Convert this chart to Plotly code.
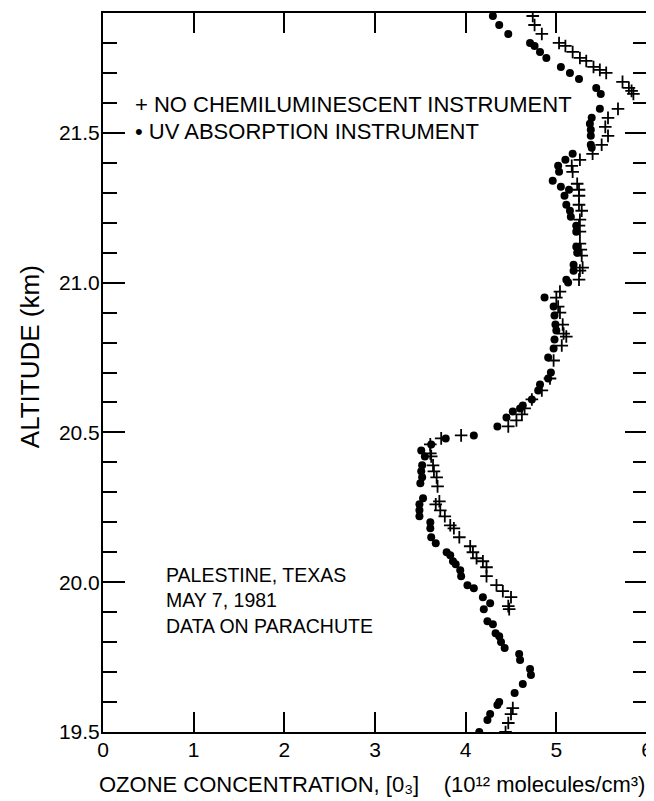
import plotly.graph_objects as go

# NO chemiluminescent instrument (crosses)
no_alt = [21.89, 21.86, 21.83, 21.80, 21.79, 21.77, 21.75, 21.74, 21.72, 21.71, 21.70, 21.67, 21.65, 21.64, 21.63,
          21.58, 21.55, 21.52, 21.49, 21.46, 21.43, 21.41, 21.39, 21.37, 21.33, 21.31, 21.29, 21.26, 21.24, 21.21,
          21.19, 21.17, 21.13, 21.11, 21.09, 21.05, 21.04, 21.01, 20.97, 20.95, 20.92, 20.90, 20.86, 20.83, 20.82,
          20.79, 20.74, 20.68, 20.64, 20.61, 20.58, 20.56, 20.54, 20.52, 20.49, 20.48, 20.46, 20.43, 20.42, 20.39,
          20.37, 20.35, 20.32, 20.27, 20.26, 20.24, 20.22, 20.19, 20.18, 20.15, 20.12, 20.10, 20.08, 20.07, 20.05,
          20.02, 19.99, 19.97, 19.95, 19.92, 19.91, 19.58, 19.56, 19.53, 19.50]
no_conc = [4.74, 4.76, 4.84, 5.03, 5.10, 5.18, 5.26, 5.33, 5.41, 5.48, 5.55, 5.73, 5.80, 5.83, 5.85,
           5.68, 5.57, 5.54, 5.57, 5.50, 5.40, 5.26, 5.17, 5.18, 5.23, 5.25, 5.25, 5.25, 5.28, 5.26,
           5.25, 5.26, 5.26, 5.27, 5.28, 5.29, 5.26, 5.25, 5.04, 5.00, 5.02, 5.04, 5.07, 5.08, 5.11,
           5.06, 4.97, 4.93, 4.84, 4.73, 4.65, 4.62, 4.56, 4.47, 3.95, 3.73, 3.61, 3.61, 3.62, 3.64,
           3.65, 3.68, 3.69, 3.71, 3.67, 3.72, 3.77, 3.83, 3.87, 3.93, 4.05, 4.08, 4.12, 4.19, 4.23,
           4.23, 4.34, 4.41, 4.50, 4.47, 4.48, 4.52, 4.50, 4.47, 4.44]

# UV absorption instrument (dots)
uv_alt = [21.89, 21.86, 21.83, 21.80, 21.79, 21.77, 21.75, 21.72, 21.70, 21.68, 21.65, 21.63, 21.58, 21.55, 21.53,
          21.51, 21.49, 21.46, 21.45, 21.43, 21.41, 21.39, 21.37, 21.34, 21.32, 21.31, 21.29, 21.26, 21.24, 21.22,
          21.19, 21.17, 21.12, 21.10, 21.06, 21.04, 21.01, 21.00, 20.95, 20.92, 20.89, 20.86, 20.84, 20.81, 20.78,
          20.75, 20.70, 20.68, 20.66, 20.64, 20.61, 20.59, 20.58, 20.57, 20.55, 20.52, 20.49, 20.48, 20.46, 20.44,
          20.42, 20.39, 20.37, 20.35, 20.33, 20.28, 20.26, 20.24, 20.22, 20.20, 20.18, 20.15, 20.13, 20.10, 20.09,
          20.07, 20.06, 20.04, 20.02, 19.99, 19.98, 19.95, 19.93, 19.91, 19.87, 19.86, 19.83, 19.82, 19.80, 19.78,
          19.76, 19.74, 19.71, 19.69, 19.66, 19.63, 19.60, 19.59, 19.56, 19.54, 19.50]
uv_conc = [4.30, 4.37, 4.47, 4.71, 4.76, 4.82, 4.89, 5.05, 5.15, 5.25, 5.44, 5.49, 5.48, 5.39, 5.37,
           5.38, 5.38, 5.38, 5.39, 5.18, 5.10, 5.02, 5.03, 4.96, 5.05, 5.14, 5.09, 5.11, 5.15, 5.16,
           5.22, 5.22, 5.22, 5.23, 5.19, 5.19, 5.11, 5.13, 4.87, 4.97, 4.98, 4.99, 5.00, 4.98, 4.97,
           4.91, 4.94, 4.91, 4.82, 4.80, 4.73, 4.63, 4.60, 4.52, 4.45, 4.35, 4.09, 3.78, 3.62, 3.51,
           3.55, 3.52, 3.51, 3.52, 3.50, 3.53, 3.49, 3.49, 3.49, 3.61, 3.61, 3.62, 3.67, 3.79, 3.83,
           3.86, 3.89, 3.94, 3.95, 4.02, 4.09, 4.19, 4.27, 4.20, 4.24, 4.30, 4.33, 4.37, 4.39, 4.43,
           4.59, 4.60, 4.71, 4.72, 4.63, 4.54, 4.37, 4.35, 4.27, 4.24, 4.15]

x_ticks = [0, 1, 2, 3, 4, 5, 6]
y_ticks = [19.5, 20.0, 20.5, 21.0, 21.5]
y_ticktext = ["19.5", "20.0", "20.5", "21.0", "21.5"]

legend_labels = ["+ NO CHEMILUMINESCENT INSTRUMENT", "\u2022 UV ABSORPTION INSTRUMENT"]
site_text = "PALESTINE, TEXAS<br>MAY 7, 1981<br>DATA ON PARACHUTE"
x_title = "OZONE CONCENTRATION, [0\u2083]    (10\u00b9\u00b2 molecules/cm\u00b3)"
y_title = "ALTITUDE (km)"

FONT = "Liberation Sans, Arial, sans-serif"

fig = go.Figure()
fig.add_trace(go.Scatter(
    x=no_conc, y=no_alt, mode="markers", name="NO CHEMILUMINESCENT INSTRUMENT",
    marker=dict(symbol="cross-thin", size=9, color="black", line=dict(color="black", width=1.8)),
))
fig.add_trace(go.Scatter(
    x=uv_conc, y=uv_alt, mode="markers", name="UV ABSORPTION INSTRUMENT",
    marker=dict(symbol="circle", size=8, color="black"),
))

annotations = [
    dict(x=0.33, y=21.595, xref="x", yref="y", xanchor="left", yanchor="middle", align="left",
         text=legend_labels[0], showarrow=False, font=dict(size=22)),
    dict(x=0.33, y=21.505, xref="x", yref="y", xanchor="left", yanchor="middle", align="left",
         text=legend_labels[1], showarrow=False, font=dict(size=22)),
    dict(x=0.67, y=19.94, xref="x", yref="y", xanchor="left", yanchor="middle", align="left",
         text=site_text, showarrow=False, font=dict(size=19.5)),
    dict(x=0.4954, y=-0.0737, xref="paper", yref="paper", xanchor="center", yanchor="middle",
         text=x_title, showarrow=False, font=dict(size=22)),
    dict(x=-0.134, y=0.5215, xref="paper", yref="paper", xanchor="center", yanchor="middle",
         text=y_title, textangle=-90, showarrow=False, font=dict(size=26)),
]

# the page body adds an 8 px margin, so the figure is 8 px smaller than the window
fig.update_layout(
    width=646, height=793,
    margin=dict(l=95, r=7, t=5, b=69),
    paper_bgcolor="white", plot_bgcolor="white",
    font=dict(family=FONT, size=20, color="black"),
    showlegend=False,
    xaxis=dict(
        range=[0, 6], tickvals=x_ticks, ticks="inside", ticklen=20, tickwidth=1.5, tickcolor="black",
        showline=True, linecolor="black", linewidth=2, mirror="ticks", showgrid=False, zeroline=False,
        tickfont=dict(size=21), ticklabelstandoff=-2, automargin=False,
    ),
    yaxis=dict(
        range=[19.5, 21.9], tickvals=y_ticks, ticktext=y_ticktext, ticks="inside", ticklen=22,
        tickwidth=1.5, tickcolor="black",
        minor=dict(dtick=0.1, tick0=19.5, ticks="inside", ticklen=14, tickwidth=1.5, tickcolor="black", showgrid=False),
        showline=True, linecolor="black", linewidth=2, mirror="ticks", showgrid=False, zeroline=False,
        tickfont=dict(size=21), ticklabelstandoff=-3, automargin=False,
    ),
    annotations=annotations,
)

fig.write_html("out.html")
